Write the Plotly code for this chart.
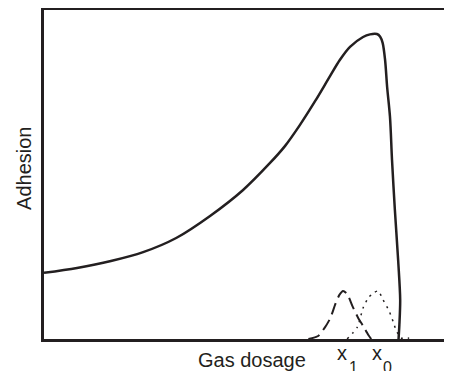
import plotly.graph_objects as go

# Main adhesion curve (arbitrary units)
main_x = [0, 8.1, 16.4, 24.3, 32.4, 40.7, 48.8, 55.4, 59.1, 62.7, 66.4, 70.1, 72.5, 75.0,
          78.2, 79.9, 81.6, 82.4, 83.0, 83.6, 84.1, 84.8, 85.3, 86.0, 86.8, 87.3, 87.1, 86.9]
main_y = [20.1, 21.6, 23.7, 26.4, 30.7, 37.4, 45.3, 53.5, 58.7, 65.0, 72.2, 79.9, 84.8, 88.8,
          91.8, 92.6, 92.7, 91.9, 90.0, 84.8, 76.6, 67.5, 54.4, 39.2, 24.0, 11.9, 4.3, 0]

# Dashed peak around x1
dash_x = [64.8, 67.2, 68.9, 70.2, 71.4, 72.4, 73.3, 74.3, 75.6, 77.0, 78.2, 79.5, 80.2]
dash_y = [0, 0.9, 3.6, 6.4, 10.6, 13.4, 14.6, 13.7, 10.0, 6.4, 4.0, 1.2, 0]

# Dotted peak around x0
dot_x = [74.3, 76.8, 78.2, 79.5, 80.7, 81.9, 83.1, 84.6, 85.6, 86.3, 87.5, 89.5]
dot_y = [0, 3.6, 9.4, 12.5, 14.0, 14.6, 11.9, 8.5, 5.2, 2.7, 0.3, 0.3]

ink = "#231f20"
fig = go.Figure()
fig.add_trace(go.Scatter(x=main_x, y=main_y, mode="lines",
                         line=dict(color=ink, width=2.5, shape="spline", smoothing=0.9)))
fig.add_trace(go.Scatter(x=dash_x, y=dash_y, mode="lines",
                         line=dict(color=ink, width=2, dash="12px,6px", shape="spline", smoothing=0.6)))
fig.add_trace(go.Scatter(x=dot_x, y=dot_y, mode="lines",
                         line=dict(color=ink, width=1.5, dash="2px,5px", shape="spline", smoothing=0.6)))

fam = "Liberation Sans, Arial, sans-serif"
font = dict(family=fam, size=20, color=ink)
subfont = dict(family=fam, size=16, color=ink)
fig.update_layout(
    width=444, height=363,
    margin=dict(l=36, r=0, t=2, b=32),
    paper_bgcolor="white", plot_bgcolor="white",
    showlegend=False,
    xaxis=dict(range=[0, 100], showgrid=False, zeroline=False, showticklabels=False,
               ticks="", showline=True, linecolor=ink, linewidth=3, mirror=True),
    yaxis=dict(range=[0, 100], showgrid=False, zeroline=False, showticklabels=False,
               ticks="", showline=True, linecolor=ink, linewidth=3),
    annotations=[
        dict(text="Gas dosage", xref="paper", yref="paper", x=0.511, y=-0.064,
             xanchor="center", yanchor="middle", showarrow=False, font=font),
        dict(text="Adhesion", xref="paper", yref="paper", x=-0.049, y=0.517,
             xanchor="center", yanchor="middle", textangle=-90, showarrow=False, font=font),
        dict(text="x", xref="paper", yref="paper", x=0.7316, y=-0.0426,
             xanchor="center", yanchor="middle", showarrow=False, font=font),
        dict(text="1", xref="paper", yref="paper", x=0.7586, y=-0.0878,
             xanchor="center", yanchor="middle", showarrow=False, font=subfont),
        dict(text="x", xref="paper", yref="paper", x=0.8174, y=-0.0426,
             xanchor="center", yanchor="middle", showarrow=False, font=font),
        dict(text="0", xref="paper", yref="paper", x=0.8419, y=-0.0878,
             xanchor="center", yanchor="middle", showarrow=False, font=subfont),
    ],
)
fig.write_html("out.html")
